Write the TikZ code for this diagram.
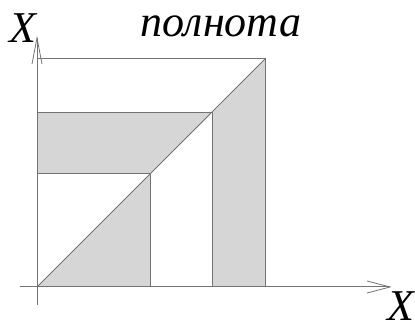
\documentclass[tikz,border=0pt]{standalone}
\usepackage{fontspec}
\setmainfont{Liberation Serif}
\begin{document}
\begin{tikzpicture}[x=1pt,y=-1pt,
  ln/.style={draw=black!55,line width=1pt},
  shade/.style={fill=black!16},
  lbl/.style={font=\fontsize{44}{44}\selectfont\itshape,inner sep=0pt,anchor=base}]
\useasboundingbox (0,0) rectangle (415,320);
% key points
\coordinate (O) at (37,287);
\coordinate (A) at (150,174);
\coordinate (B) at (212,113);
\coordinate (C) at (265,59);
\coordinate (Ay) at (37,174);
\coordinate (By) at (37,113);
\coordinate (Cy) at (37,59);
\coordinate (Ax) at (150,287);
\coordinate (Bx) at (212,287);
\coordinate (Cx) at (265,287);
\coordinate (ytip) at (37,38);
\coordinate (ybot) at (37,305);
\coordinate (xtip) at (390,287);
\coordinate (xleft) at (20,287);
% shaded regions
\fill[shade] (O) -- (A) -- (Ax) -- cycle;
\fill[shade] (By) -- (B) -- (A) -- (Ay) -- cycle;
\fill[shade] (B) -- (C) -- (Cx) -- (Bx) -- cycle;
% lines
\draw[ln] (O) -- (C);
\draw[ln] (Cy) -- (C) -- (Cx);
\draw[ln] (Ay) -- (A) -- (Ax);
\draw[ln] (By) -- (B) -- (Bx);
% axes
\draw[ln] (ybot) -- (ytip);
\draw[ln] (xleft) -- (xtip);
\draw[ln,line width=0.8pt] (32,64) -- (ytip) -- (42,64);
\draw[ln,line width=0.8pt] (367,281) -- (xtip) -- (367,293);
% labels
\node[lbl] (ylab) at (23,43) {X};
\node[lbl] (xlab) at (401,320) {X};
\node[lbl] (title) at (221,37) {полнота};
\end{tikzpicture}
\end{document}
